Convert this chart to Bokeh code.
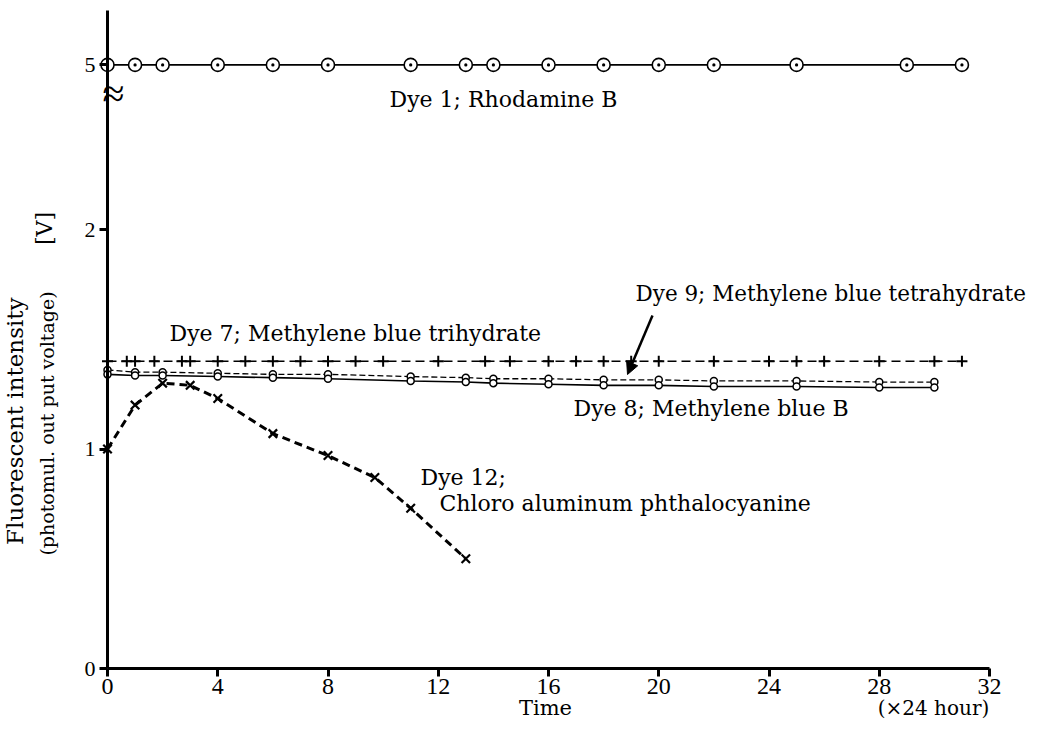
import math
from bokeh.plotting import figure
from bokeh.models import Range1d, FixedTicker, Label, Arrow, NormalHead
from bokeh.embed import file_html
from bokeh.resources import INLINE

# ---------------- data ----------------
x_ticks = [0, 4, 8, 12, 16, 20, 24, 28, 32]
y_ticks = [0, 1, 2, 5]

dye1_x = [0, 1, 2, 4, 6, 8, 11, 13, 14, 16, 18, 20, 22, 25, 29, 31]
dye1_y = [5.0, 5.0, 5.0, 5.0, 5.0, 5.0, 5.0, 5.0, 5.0, 5.0, 5.0, 5.0, 5.0, 5.0, 5.0, 5.0]

dye7_x = [0, 0.7, 1, 1.7, 2.7, 3, 4, 5, 6, 7, 8, 9, 10, 12, 13.7, 14.6, 16, 17, 18, 19, 20, 22, 24, 25, 26, 28, 30, 31]
dye7_y = [1.40, 1.40, 1.40, 1.40, 1.40, 1.40, 1.40, 1.40, 1.40, 1.40, 1.40, 1.40, 1.40, 1.40,
          1.40, 1.40, 1.40, 1.40, 1.40, 1.40, 1.40, 1.40, 1.40, 1.40, 1.40, 1.40, 1.40, 1.40]

dye9_x = [0, 1, 2, 4, 6, 8, 11, 13, 14, 16, 18, 20, 22, 25, 28, 30]
dye9_y = [1.36, 1.35, 1.35, 1.345, 1.34, 1.34, 1.33, 1.325, 1.32, 1.32, 1.315, 1.315, 1.31, 1.31, 1.305, 1.305]

dye8_x = [0, 1, 2, 4, 6, 8, 11, 13, 14, 16, 18, 20, 22, 25, 28, 30]
dye8_y = [1.34, 1.335, 1.335, 1.33, 1.325, 1.32, 1.31, 1.305, 1.30, 1.295, 1.29, 1.29, 1.285, 1.285, 1.28, 1.28]

dye12_x = [0, 1, 2, 3, 4, 6, 8, 9.7, 11, 13]
dye12_y = [1.0, 1.2, 1.3, 1.29, 1.23, 1.07, 0.97, 0.87, 0.73, 0.5]

# ---------------- broken y axis ----------------
BREAK_VALUE = 5.0      # first value above the axis break
BREAK_POS = 2.75       # where that value sits on the drawn axis
Y_TOP = 3.0


def brk(v):
    return v - (BREAK_VALUE - BREAK_POS) if v >= BREAK_VALUE else v


def brk_list(vals):
    return [brk(v) for v in vals]


# ---------------- geometry: the frame fills the whole canvas ----------------
W, H = 1038, 724
PAGE = 8                 # page margin
X0_PAGE, Y0_PAGE = 115, 676   # page pixel of the data origin
X_PER_UNIT = 882 / 32.0
Y_PER_UNIT = 219.5


def dx(px):
    return (px - X0_PAGE) / X_PER_UNIT


def dy(py):
    return (Y0_PAGE - py) / Y_PER_UNIT


p = figure(width=W, height=H,
           x_range=Range1d(dx(PAGE), dx(PAGE + W)),
           y_range=Range1d(dy(PAGE + H), dy(PAGE)),
           output_backend="svg", toolbar_location=None,
           min_border_left=0, min_border_right=0, min_border_top=0, min_border_bottom=0)
p.grid.visible = False
p.outline_line_color = None
p.background_fill_color = "white"
p.border_fill_color = "white"

SERIF = "DejaVu Serif"
NUM = "Liberation Serif"

xa = p.xaxis[0]
xa.fixed_location = 0
xa.ticker = FixedTicker(ticks=x_ticks)
xa.bounds = (0, 32)
xa.axis_line_width = 3
xa.axis_line_color = "black"
xa.major_tick_line_width = 3
xa.major_tick_line_color = "black"
xa.major_tick_out = 8
xa.major_tick_in = 0
xa.minor_tick_out = 0
xa.minor_tick_in = 0
xa.major_label_standoff = 2
xa.major_label_text_font = NUM
xa.major_label_text_font_size = "24px"
xa.major_label_text_color = "black"

ya = p.yaxis[0]
ya.fixed_location = 0
ya.ticker = FixedTicker(ticks=brk_list(y_ticks))
ya.major_label_overrides = {brk(v): str(v) for v in y_ticks}
ya.bounds = (0, Y_TOP)
ya.axis_line_width = 3
ya.axis_line_color = "black"
ya.major_tick_line_width = 3
ya.major_tick_line_color = "black"
ya.major_tick_out = 8
ya.major_tick_in = 0
ya.minor_tick_out = 0
ya.minor_tick_in = 0
ya.major_label_standoff = 4
ya.major_label_text_font = NUM
ya.major_label_text_font_size = "22px"
ya.major_label_text_color = "black"

# ---------------- series ----------------
# Dye 1 ; Rhodamine B
p.line(dye1_x, brk_list(dye1_y), line_color="black", line_width=1.6)
p.scatter(dye1_x, brk_list(dye1_y), marker="circle_dot", size=13, line_color="black",
          line_width=1.6, fill_color="white")

# Dye 7 ; Methylene blue trihydrate
p.line(dye7_x, dye7_y, line_color="black", line_width=1.5, line_dash="9 5")
p.scatter(dye7_x, dye7_y, marker="cross", size=11, line_color="black", line_width=2)

# Dye 9 ; Methylene blue tetrahydrate
p.line(dye9_x, dye9_y, line_color="black", line_width=1.3, line_dash="6 3")
# Dye 8 ; Methylene blue B
p.line(dye8_x, dye8_y, line_color="black", line_width=1.6)
p.scatter(dye9_x, dye9_y, marker="circle", size=7, line_color="black", line_width=1.5, fill_color="white")
p.scatter(dye8_x, dye8_y, marker="circle", size=7, line_color="black", line_width=1.5, fill_color="white")

# Dye 12 ; Chloro aluminum phthalocyanine
p.line(dye12_x, dye12_y, line_color="black", line_width=3, line_dash="8 5")
p.scatter(dye12_x, dye12_y, marker="x", size=12, line_color="black", line_width=2.2)


# ---------------- annotations (placed by page pixels) ----------------
def label(px, py, text, size="21px", font=SERIF, align="left", angle=0.0, style="normal"):
    p.add_layout(Label(x=dx(px), y=dy(py), text=text, text_font=font, text_font_size=size,
                       text_color="black", text_align=align, text_baseline="middle",
                       angle=angle, text_font_style=style))


label(397, 107, "Dye 1; Rhodamine B", size="22px")
label(177, 341, "Dye 7; Methylene blue trihydrate", size="22px")
label(643, 301, "Dye 9; Methylene blue tetrahydrate", size="21.5px")
label(581, 416, "Dye 8; Methylene blue B", size="22px")
label(428, 485, "Dye 12;", size="22px")
label(447, 511, "Chloro aluminum phthalocyanine", size="22px")

label(553, 715, "Time", size="21px", align="center")
label(941, 715, "(\u00d724 hour)", size="20px", align="center")

label(22, 425, "Fluorescent  intensity", size="23px", align="center", angle=math.pi / 2)
label(54, 431, "(photomul. out put voltage)", size="19px", align="center", angle=math.pi / 2)
label(52, 236, "[V]", size="22px", align="center", angle=math.pi / 2)

# axis-break mark
label(121, 101, "\u2248", size="40px", align="center", font=NUM)

# arrow pointing to Dye 9
p.add_layout(Arrow(end=NormalHead(size=12, fill_color="black", line_color="black"),
                   x_start=dx(660), y_start=dy(323), x_end=dx(635), y_end=dy(382),
                   line_color="black", line_width=2.5))

open("out.html", "w").write(file_html(p, INLINE))
